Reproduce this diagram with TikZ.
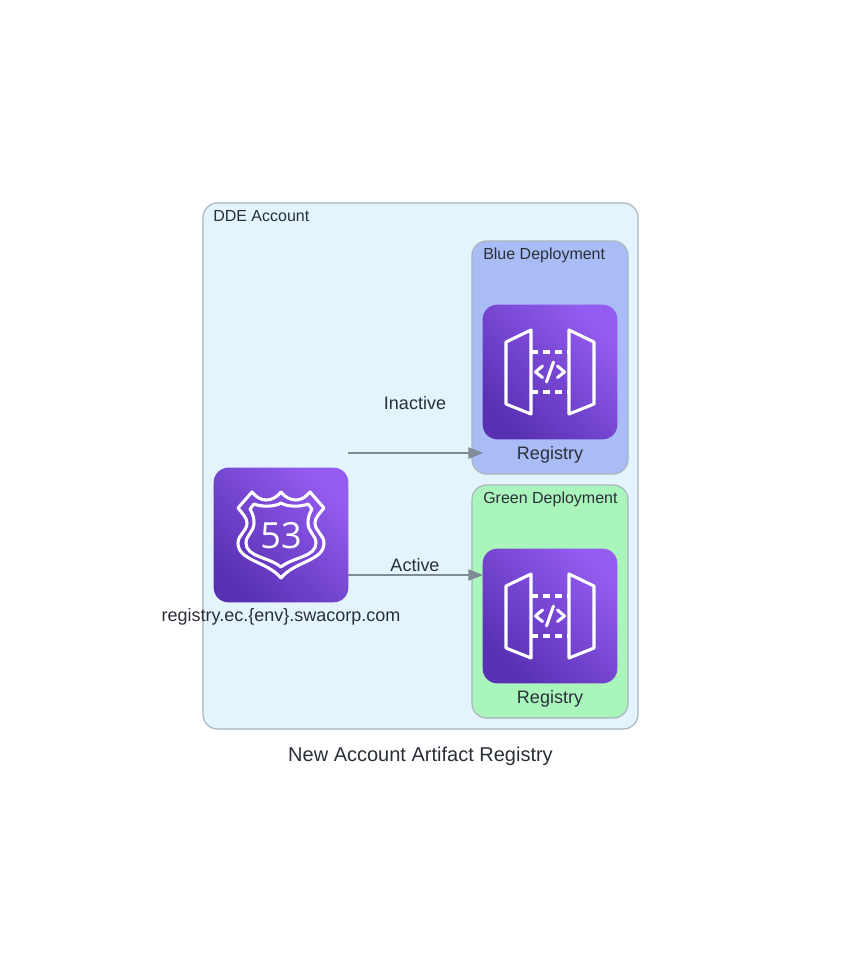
\documentclass[tikz,border=0pt]{standalone}
\usepackage{fontspec}
\setmainfont{Liberation Sans}
\newfontfamily\digitfont{Open Sans}
\usetikzlibrary{arrows.meta}
\definecolor{inkgray}{HTML}{2A2F38}
\definecolor{edgegray}{HTML}{7F8C96}
\definecolor{groupline}{HTML}{A9B5BE}
\definecolor{accountfill}{HTML}{E3F4FD}
\definecolor{bluefill}{HTML}{A9BCF5}
\definecolor{greenfill}{HTML}{A9F5BC}
\definecolor{awsdark}{HTML}{5830B2}
\definecolor{awslight}{HTML}{945CF0}
\tikzset{every node/.append style={font=\fontsize{13.5pt}{16pt}\selectfont, text=inkgray}}
\tikzset{
  groupbox/.style={draw=groupline, line width=0.9pt, rounded corners=11pt, inner sep=0pt},
  grouplabel/.style={anchor=west, inner sep=0pt, font=\fontsize{12pt}{14pt}\selectfont},
  iconbox/.style={rounded corners=11pt, minimum size=101pt, inner sep=0pt, top color=awslight, bottom color=awsdark, shading angle=-45},
  iconline/.style={draw=white, line width=2.3pt, line join=round, line cap=round},
  apigateway/.pic={
    \foreach \s in {1,-1} {
      \begin{scope}[xscale=\s]
        \draw[iconline] (19,-42) -- (44,-30) -- (44,32) -- (19,42) -- cycle;
        \draw[iconline] (7.5,-6) -- (14.5,0) -- (7.5,5.5);
      \end{scope}
    }
    \draw[iconline] (3.5,-10) -- (-3.5,10);
    \draw[iconline, line cap=butt, dash pattern=on 5.2pt off 3.8pt] (-19,-20) -- (19,-20);
    \draw[iconline, line cap=butt, dash pattern=on 5.2pt off 3.8pt] (-19,20) -- (19,20);
  },
  routeshield/.pic={
    \foreach \s in {1,-1} {
      \begin{scope}[xscale=\s]
        \draw[iconline] (0,-43) .. controls (5,-37) and (10,-35) .. (15,-35)
          .. controls (20,-35) and (25,-38) .. (29,-43) -- (43,-27)
          .. controls (38,-21) and (34,-17) .. (34,-12)
          .. controls (34,-4) and (43,0) .. (43,8)
          .. controls (43,26) and (14,26) .. (0,43);
        \draw[iconline] (0,-32) .. controls (6,-28) and (20,-28) .. (27,-31) -- (31,-26)
          .. controls (28,-21) and (27,-17) .. (27,-12)
          .. controls (27,-3) and (35,0) .. (35,8)
          .. controls (35,22) and (12,22) .. (0,32);
      \end{scope}
    }
    \node[text=white, inner sep=0pt, font=\digitfont\fontsize{27pt}{30pt}\selectfont] (shieldnum) at (0,1) {53};
  }
}
\begin{document}
\begin{tikzpicture}[x=0.75pt, y=-0.75pt, >={Triangle[length=11pt,width=8.5pt]}]
    \useasboundingbox (0,0) rectangle (841,965);
    \fill[white] (0,0) rectangle (841,965);

    % groups
    \node[groupbox, fill=accountfill, minimum width=326.25pt, minimum height=394.5pt] (account) at (420.5,466) {};
    \node[groupbox, fill=bluefill, minimum width=117pt, minimum height=174.75pt] (bluegroup) at (550,357.5) {};
    \node[groupbox, fill=greenfill, minimum width=117pt, minimum height=174.75pt] (greengroup) at (550,601.5) {};
    \node[grouplabel] (accountlabel) at (213,216.5) {DDE Account};
    \node[grouplabel] (bluelabel) at (483,255) {Blue Deployment};
    \node[grouplabel] (greenlabel) at (483,499) {Green Deployment};

    % icons
    \node[iconbox] (route) at (281,535) {};
    \node[iconbox] (blueapi) at (550,372) {};
    \node[iconbox] (greenapi) at (550,616) {};
    \pic at (route.center) {routeshield};
    \pic at (blueapi.center) {apigateway};
    \pic at (greenapi.center) {apigateway};
    \node (routetext) at (281,616.5) {registry.ec.\{env\}.swacorp.com};
    \node[minimum width=101pt, inner sep=0pt] (blueregistry) at (550,455) {Registry};
    \node[minimum width=101pt, inner sep=0pt] (greenregistry) at (550,699) {Registry};

    % edges
    \coordinate (inactivestart) at (348,453);
    \coordinate (inactiveend) at (483,453);
    \coordinate (activestart) at (348,575);
    \coordinate (activeend) at (483,575);
    \draw[->, draw=edgegray, fill=edgegray, line width=0.9pt] (inactivestart) -- (inactiveend);
    \draw[->, draw=edgegray, fill=edgegray, line width=0.9pt] (activestart) -- (activeend);
    \node (inactivelabel) at (415,403) {Inactive};
    \node (activelabel) at (415,565) {Active};

    \node[font=\fontsize{15pt}{18pt}\selectfont] (title) at (420.5,756) {New Account Artifact Registry};
\end{tikzpicture}
\end{document}
